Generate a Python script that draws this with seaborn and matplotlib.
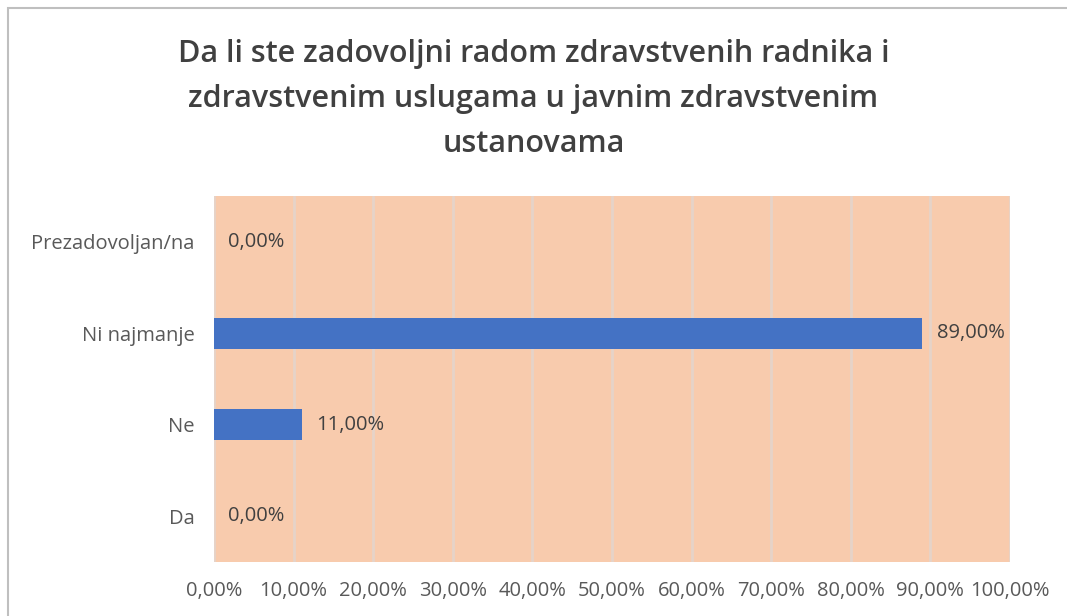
import matplotlib
matplotlib.use('Agg')
import matplotlib.pyplot as plt
import seaborn as sns
import pandas as pd
from matplotlib.patches import Rectangle
from matplotlib.ticker import FuncFormatter

sns.set_theme(style='white')
plt.rcParams['font.family'] = ['Open Sans', 'DejaVu Sans']

# data
categories = ['Prezadovoljan/na', 'Ni najmanje', 'Ne', 'Da']
values = [0.0, 89.0, 11.0, 0.0]
x_ticks = [0, 10, 20, 30, 40, 50, 60, 70, 80, 90, 100]
title = ('Da li ste zadovoljni radom zdravstvenih radnika i\n'
         'zdravstvenim uslugama u javnim zdravstvenim\nustanovama')

BAR = '#4472C4'
BG = '#F8CBAD'
TXT = '#595959'


def pct(v):
    return '{:.2f}%'.format(v).replace('.', ',')


df = pd.DataFrame({'category': categories, 'value': values})

fig = plt.figure(figsize=(10.67, 6.16), dpi=100)
ax = fig.add_axes([0.2006, 0.0877, 0.7460, 0.5943])
ax.set_facecolor(BG)

sns.barplot(data=df, x='value', y='category', orient='h', color=BAR,
            width=0.34, saturation=1, linewidth=0, ax=ax, zorder=3)

ax.set_xlim(0, 100)
ax.set_ylim(3.5, -0.5)
ax.set_xticks(x_ticks)
ax.xaxis.set_major_formatter(FuncFormatter(lambda v, p: pct(v)))
ax.grid(axis='x', color='#E6D3C8', linewidth=2, zorder=1)
ax.set_axisbelow(True)
for s in ax.spines.values():
    s.set_visible(False)
ax.set_xlabel('')
ax.set_ylabel('')
ax.tick_params(axis='both', length=0, labelsize=14.5, labelcolor=TXT)
ax.tick_params(axis='x', pad=14)
ax.tick_params(axis='y', pad=14)

for i, v in enumerate(values):
    ax.text(v + 1.8, i, pct(v), va='center', ha='left', fontsize=14.5,
            color='#404040')

fig.text(0.5, 0.84, title, ha='center', va='center', fontsize=22,
         fontweight='semibold', color='#404040', linespacing=1.65)

# chart frame
fig.patches.append(Rectangle((8 / 1067, -0.1), 1.2, 1 - 8 / 616 + 0.1,
                             transform=fig.transFigure, fill=False,
                             edgecolor='#BFBFBF', linewidth=1.5))

fig.savefig('out.png', dpi=100, facecolor='white')
